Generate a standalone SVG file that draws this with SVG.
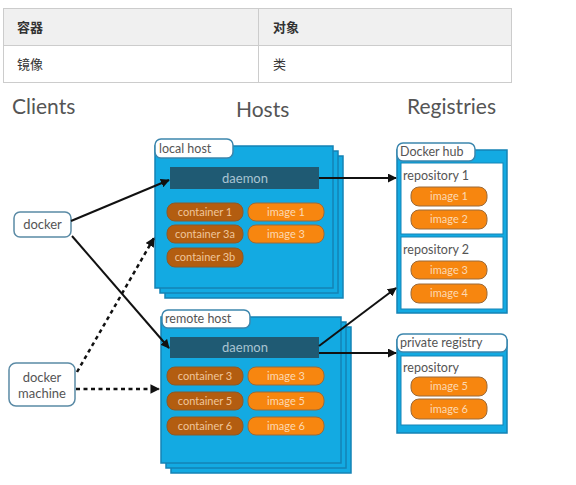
<svg xmlns="http://www.w3.org/2000/svg" width="576" height="485" viewBox="0 0 576 485">
<style>
.cjk{font-family:"Liberation Sans","Noto Sans CJK SC",sans-serif;font-size:13px;fill:#333}
.hd{font-weight:bold}
.title{font-family:"Lato","Liberation Sans",sans-serif;font-size:21px;fill:#555}
.lbl{font-family:"Lato","Liberation Sans",sans-serif;font-size:12.5px;fill:#555}
.layer{fill:#13aae2;stroke:#1583b5;stroke-width:1.5}
.tab{fill:#fff;stroke:#3c86ad;stroke-width:1.5}
.daemon{fill:#1f5a73}
.dtxt{font-family:"Lato","Liberation Sans",sans-serif;font-size:13px;fill:#a9c4d2;text-anchor:middle}
.cont{fill:#b35d10;stroke:#8a5a2a;stroke-width:1}
.img{fill:#f7860f;stroke:#9a6a3a;stroke-width:1}
.ptxt{font-family:"Lato","Liberation Sans",sans-serif;font-size:11px;fill:#f0c59a;text-anchor:middle}
.itxt{font-family:"Lato","Liberation Sans",sans-serif;font-size:11px;fill:#fcd9b3;text-anchor:middle}
.repo{fill:#fff;stroke:#1583b5;stroke-width:1}
.client{fill:#fff;stroke:#5a8aa5;stroke-width:1.5}
.conn{stroke:#111;stroke-width:2;fill:none}
.dash{stroke:#111;stroke-width:2.5;fill:none;stroke-dasharray:4 3.5}
</style>
<defs>
<marker id="ah" viewBox="0 0 10 10" refX="9" refY="5" markerWidth="4.5" markerHeight="4.5" orient="auto" markerUnits="strokeWidth">
<path d="M0,0 L10,5 L0,10 z" fill="#111"/>
</marker>
<marker id="ahd" viewBox="0 0 10 10" refX="9" refY="5" markerWidth="3.8" markerHeight="3.8" orient="auto" markerUnits="strokeWidth">
<path d="M0,0 L10,5 L0,10 z" fill="#111"/>
</marker>
</defs>
<rect width="576" height="485" fill="#fff"/>
<g id="table">
<rect x="3.5" y="8.5" width="508" height="37" fill="#f0f0f0"/>
<rect x="3.5" y="8.5" width="508" height="74" fill="none" stroke="#ccc" stroke-width="1"/>
<line x1="3.5" y1="45.5" x2="511.5" y2="45.5" stroke="#ccc"/>
<line x1="258.5" y1="8.5" x2="258.5" y2="82.5" stroke="#ccc"/>
<text class="cjk hd" x="17" y="32">容器</text>
<text class="cjk hd" x="273" y="32">对象</text>
<text class="cjk" x="17" y="69">镜像</text>
<text class="cjk" x="273" y="69">类</text>
</g>
<g id="titles">
<text class="title" x="12" y="114">Clients</text>
<text class="title" x="236" y="117">Hosts</text>
<text class="title" x="407" y="114">Registries</text>
</g>
<g id="local-host">
<rect class="layer" x="165" y="156" width="178" height="142"/>
<rect class="layer" x="160" y="151" width="178" height="142"/>
<rect class="layer" x="155" y="146" width="178" height="142"/>
<rect class="tab" x="155" y="139" width="78" height="19" rx="6"/>
<text class="lbl" x="159" y="153">local host</text>
<rect class="daemon" x="170" y="167" width="149" height="22"/>
<text class="dtxt" x="245" y="183">daemon</text>
<rect class="cont" x="167" y="203" width="76" height="18" rx="8"/>
<text class="ptxt" x="205" y="216">container 1</text>
<rect class="img" x="248" y="203" width="76" height="18" rx="8"/>
<text class="itxt" x="286" y="216">image 1</text>
<rect class="cont" x="167" y="225" width="76" height="18" rx="8"/>
<text class="ptxt" x="205" y="238">container 3a</text>
<rect class="img" x="248" y="225" width="76" height="18" rx="8"/>
<text class="itxt" x="286" y="238">image 3</text>
<rect class="cont" x="167" y="248" width="76" height="19" rx="8"/>
<text class="ptxt" x="205" y="261">container 3b</text>
</g>
<g id="remote-host">
<rect class="layer" x="171" y="327" width="180" height="146"/>
<rect class="layer" x="166" y="322" width="180" height="146"/>
<rect class="layer" x="161" y="317" width="180" height="146"/>
<rect class="tab" x="162" y="310" width="88" height="18" rx="6"/>
<text class="lbl" x="165" y="323">remote host</text>
<rect class="daemon" x="170" y="337" width="149" height="21"/>
<text class="dtxt" x="245" y="352">daemon</text>
<rect class="cont" x="167" y="367" width="76" height="18" rx="8"/>
<text class="ptxt" x="205" y="380">container 3</text>
<rect class="img" x="248" y="367" width="76" height="18" rx="8"/>
<text class="itxt" x="286" y="380">image 3</text>
<rect class="cont" x="167" y="392" width="76" height="18" rx="8"/>
<text class="ptxt" x="205" y="405">container 5</text>
<rect class="img" x="248" y="392" width="76" height="18" rx="8"/>
<text class="itxt" x="286" y="405">image 5</text>
<rect class="cont" x="167" y="417" width="76" height="18" rx="8"/>
<text class="ptxt" x="205" y="430">container 6</text>
<rect class="img" x="248" y="417" width="76" height="18" rx="8"/>
<text class="itxt" x="286" y="430">image 6</text>
</g>
<g id="docker-hub">
<rect class="layer" x="397" y="150" width="110" height="163"/>
<rect class="tab" x="397" y="143" width="78" height="18" rx="6"/>
<text class="lbl" x="400" y="156">Docker hub</text>
<rect class="repo" x="401" y="163" width="102" height="71"/>
<text class="lbl" x="403" y="180">repository 1</text>
<rect class="img" x="411" y="187" width="76" height="19" rx="8"/>
<text class="itxt" x="449" y="200">image 1</text>
<rect class="img" x="411" y="210" width="76" height="19" rx="8"/>
<text class="itxt" x="449" y="223">image 2</text>
<rect class="repo" x="401" y="237" width="102" height="72"/>
<text class="lbl" x="403" y="254">repository 2</text>
<rect class="img" x="411" y="261" width="76" height="18" rx="8"/>
<text class="itxt" x="449" y="274">image 3</text>
<rect class="img" x="411" y="284" width="76" height="19" rx="8"/>
<text class="itxt" x="449" y="297">image 4</text>
</g>
<g id="private-registry">
<rect class="layer" x="397" y="340" width="110" height="93"/>
<rect class="tab" x="397" y="334" width="110" height="18" rx="6"/>
<text class="lbl" x="400" y="347">private registry</text>
<rect class="repo" x="401" y="356" width="102" height="69"/>
<text class="lbl" x="403" y="372">repository</text>
<rect class="img" x="411" y="377" width="76" height="19" rx="8"/>
<text class="itxt" x="449" y="390">image 5</text>
<rect class="img" x="411" y="399" width="76" height="20" rx="8"/>
<text class="itxt" x="449" y="413">image 6</text>
</g>
<g id="docker">
<rect class="client" x="14" y="212" width="57" height="25" rx="6"/>
<text class="lbl" x="42.5" y="229" text-anchor="middle" style="font-size:13px">docker</text>
</g>
<g id="docker-machine">
<rect class="client" x="9" y="363" width="66" height="43" rx="7"/>
<text class="lbl" x="42" y="382" text-anchor="middle" style="font-size:13px">docker</text>
<text class="lbl" x="42" y="398" text-anchor="middle" style="font-size:13px">machine</text>
</g>
<g id="connectors">
<line class="conn" x1="71" y1="221" x2="169" y2="180" marker-end="url(#ah)"/>
<line class="conn" x1="72" y1="236" x2="169" y2="348" marker-end="url(#ah)"/>
<line class="dash" x1="77" y1="372" x2="154" y2="238" marker-end="url(#ahd)"/>
<line class="dash" x1="76" y1="389" x2="159" y2="389" marker-end="url(#ahd)"/>
<line class="conn" x1="319" y1="178" x2="396" y2="178" marker-end="url(#ah)"/>
<line class="conn" x1="319" y1="346" x2="396" y2="288" marker-end="url(#ah)"/>
<line class="conn" x1="319" y1="353" x2="396" y2="353" marker-end="url(#ah)"/>
</g>
</svg>
